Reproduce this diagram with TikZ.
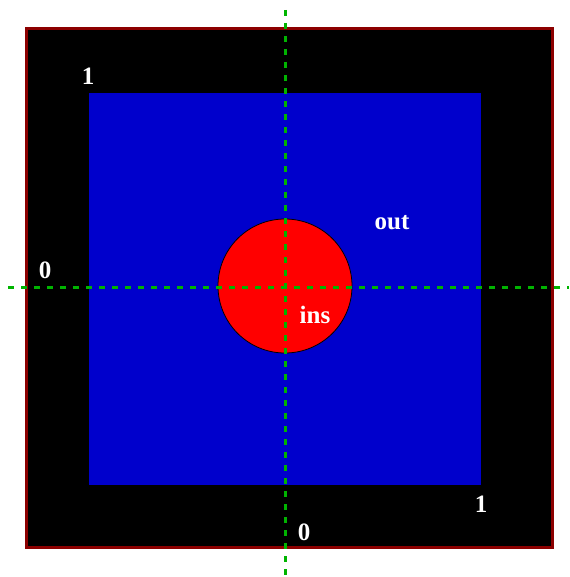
\documentclass[tikz,border=0pt]{standalone}
\usepackage{fontspec}
\setmainfont{Liberation Serif}
\begin{document}
\begin{tikzpicture}[x=1pt,y=-1pt,
  lbl/.style={text=white,font=\bfseries\fontsize{25}{25}\selectfont,inner sep=0pt},
  axis/.style={draw={rgb,255:red,0;green,180;blue,0},line width=3pt,dash pattern=on 6pt off 7pt}]
\useasboundingbox (0,0) rectangle (569,577);
\definecolor{frame}{RGB}{140,0,0}
\definecolor{inner}{RGB}{0,0,204}
\filldraw[fill=black,draw=frame,line width=3pt] (26.5,28.5) rectangle (552.5,547.5);
\fill[inner] (89,93) rectangle (480.5,485);
\filldraw[fill=red,draw=black,line width=0.8pt] (285,286) circle (67);
\coordinate (vt) at (285,10);
\coordinate (vb) at (285,577);
\coordinate (hl) at (8,287);
\coordinate (hr) at (569,287);
\draw[axis] (vt) -- (vb);
\draw[axis] (hl) -- (hr);
\node[lbl] (t1) at (88,76) {1};
\node[lbl] (l0) at (45,270) {0};
\node[lbl] (out) at (392,223) {out};
\node[lbl] (ins) at (315,315) {ins};
\node[lbl] (r1) at (481,504) {1};
\node[lbl] (b0) at (304,532) {0};
\end{tikzpicture}
\end{document}
